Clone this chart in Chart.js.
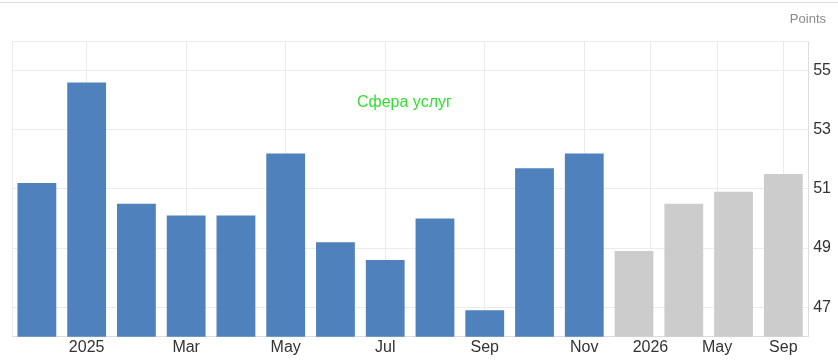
<!DOCTYPE html>
<html>
<head>
<meta charset="utf-8">
<script src="https://cdn.jsdelivr.net/npm/chart.js@4.4.0/dist/chart.umd.min.js"></script>
<style>
  body { margin: 0; background: #fff; font-family: "Liberation Sans", Arial, sans-serif; }
  #wrap { position: relative; width: 838px; height: 363px; }
  #chart { position: absolute; left: 0; top: 0; }
  #topline { position: absolute; left: 0; right: 0; top: 2px; border-top: 1px solid #dcdcdc; z-index: 2; }
  #units { position: absolute; right: 12px; top: 11px; font-size: 13px; color: #8a8a8a; z-index: 2; }
  #name { position: absolute; left: 357px; top: 93px; font-size: 16px; color: #33dd33; z-index: 2; }
</style>
</head>
<body>
<div id="wrap">
  <canvas id="chart" width="838" height="363"></canvas>
  <div id="topline"></div>
  <div id="units">Points</div>
  <div id="name">Сфера услуг</div>
</div>
<script>
// actual readings, Dec 2024 .. Nov 2025
const actualMonths = ['Dec 2024', 'Jan 2025', 'Feb 2025', 'Mar 2025', 'Apr 2025', 'May 2025',
                      'Jun 2025', 'Jul 2025', 'Aug 2025', 'Sep 2025', 'Oct 2025', 'Nov 2025'];
const actualValues = [51.2, 54.6, 50.5, 50.1, 50.1, 52.2, 49.2, 48.6, 50.0, 46.9, 51.7, 52.2];

// forecast, quarterly
const forecastMonths = ['Dec 2025', 'Mar 2026', 'Jun 2026', 'Sep 2026'];
const forecastValues = [48.9, 50.5, 50.9, 51.5];

// x tick labels and where they sit (in bar index units)
const xTickLabels = ['2025', 'Mar', 'May', 'Jul', 'Sep', 'Nov', '2026', 'May', 'Sep'];
const xTickPositions = [1, 3, 5, 7, 9, 11, 12.33, 13.67, 15];

const yTicks = [47, 49, 51, 53, 55];

const allMonths = actualMonths.concat(forecastMonths);
const actualData = actualValues.map((v, i) => ({ x: i, y: v }));
const forecastData = forecastValues.map((v, i) => ({ x: actualValues.length + i, y: v }));

const tickFont = { family: '"Liberation Sans", Arial, sans-serif', size: 16 };

const ctx = document.getElementById('chart');
new Chart(ctx, {
    type: 'bar',
    data: {
        datasets: [{
            label: 'Сфера услуг',
            data: actualData,
            backgroundColor: '#4f81bc'
        }, {
            label: 'Forecast',
            data: forecastData,
            backgroundColor: '#cccccc'
        }]
    },
    options: {
        responsive: false,
        animation: false,
        grouped: false,
        categoryPercentage: 1,
        barPercentage: 0.78,
        layout: { padding: { top: 41, right: 2, left: 12, bottom: 5 } },
        plugins: {
            legend: { display: false },
            tooltip: { enabled: false }
        },
        scales: {
            x: {
                type: 'linear',
                offset: false,
                min: -0.5,
                max: allMonths.length - 0.5,
                afterBuildTicks: (axis) => {
                    axis.ticks = [{ value: -0.5 }].concat(xTickPositions.map(p => ({ value: p })));
                },
                ticks: {
                    autoSkip: false,
                    maxRotation: 0,
                    padding: 1,
                    color: '#333',
                    font: tickFont,
                    callback: (value) => {
                        const k = xTickPositions.indexOf(value);
                        return k < 0 ? '' : xTickLabels[k];
                    }
                },
                grid: { color: '#ebebeb', drawTicks: false, offset: false },
                border: { color: '#dddddd' }
            },
            y: {
                position: 'right',
                min: 46,
                max: 56,
                afterBuildTicks: (axis) => {
                    axis.ticks = yTicks.concat([56]).map(v => ({ value: v }));
                },
                ticks: {
                    padding: 5,
                    color: '#333',
                    font: tickFont,
                    callback: (value) => yTicks.includes(value) ? String(value) : ''
                },
                grid: { color: '#ebebeb', drawTicks: false },
                border: { color: '#dddddd' }
            }
        }
    }
});
</script>
</body>
</html>
